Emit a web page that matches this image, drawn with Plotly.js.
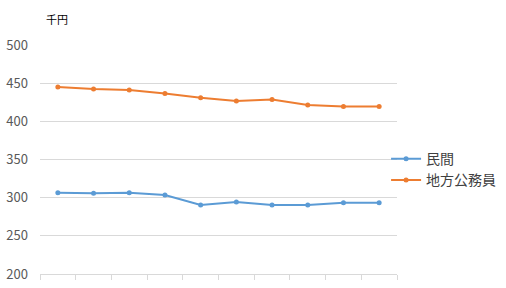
<!DOCTYPE html>
<html>
<head>
<meta charset="utf-8">
<script src="https://cdn.plot.ly/plotly-3.0.1.min.js"></script>
<style>html,body{margin:0;padding:0;background:#fff;}#chart{width:506px;height:288px;}</style>
</head>
<body>
<div id="chart"></div>
<script>
const categories = [1, 2, 3, 4, 5, 6, 7, 8, 9, 10];
const seriesNames = ["民間", "地方公務員"];
const minkan = [306.5, 305.7, 306.5, 303.5, 290.4, 294.3, 290.4, 290.4, 293.4, 293.4];
const chiho = [445, 442.4, 441, 436.5, 431, 426.6, 428.6, 421.4, 419.4, 419.4];
const yTicks = [200, 250, 300, 350, 400, 450, 500];
const unitLabel = "千円";

const font = "'Noto Sans CJK JP', 'Noto Sans', sans-serif";
const boundaries = categories.map(c => c - 0.5).concat([categories[categories.length - 1] + 0.5]);

const traces = [
  {x: categories, y: minkan, name: seriesNames[0], type: "scatter", mode: "lines+markers",
   line: {color: "#5b9bd5", width: 2}, marker: {color: "#5b9bd5", size: 5}},
  {x: categories, y: chiho, name: seriesNames[1], type: "scatter", mode: "lines+markers",
   line: {color: "#ed7d31", width: 2}, marker: {color: "#ed7d31", size: 5}}
];

const layout = {
  width: 506, height: 288,
  margin: {l: 40, r: 109, t: 45, b: 14, autoexpand: false},
  paper_bgcolor: "#fff", plot_bgcolor: "#fff",
  font: {family: font, color: "#595959", size: 13},
  showlegend: true,
  legend: {xref: "container", yref: "container", x: 0.763, xanchor: "left", y: 0.411, yanchor: "middle",
           font: {size: 14, color: "#404040"}, itemwidth: 30, tracegroupgap: 0, bgcolor: "rgba(0,0,0,0)"},
  xaxis: {range: [0.5, 10.5], tickmode: "array", tickvals: boundaries, ticktext: boundaries.map(() => ""),
          ticks: "outside", ticklen: 5, tickcolor: "#d9d9d9", showgrid: false, zeroline: false,
          showline: true, linecolor: "#d9d9d9", linewidth: 1, fixedrange: true},
  yaxis: {range: [200, 500], tickmode: "array", tickvals: yTicks, showgrid: true, gridcolor: "#d9d9d9",
          zeroline: false, showline: false, ticks: "", ticklabelstandoff: 11, tickfont: {size: 13, color: "#595959"}},
  annotations: [{text: unitLabel, xref: "paper", yref: "paper", x: 0.012, y: 1.0, yshift: 26,
                 xanchor: "left", yanchor: "middle", showarrow: false, font: {size: 11, color: "#000"}}]
};

Plotly.newPlot("chart", traces, layout, {displayModeBar: false, staticPlot: true});
</script>
</body>
</html>
